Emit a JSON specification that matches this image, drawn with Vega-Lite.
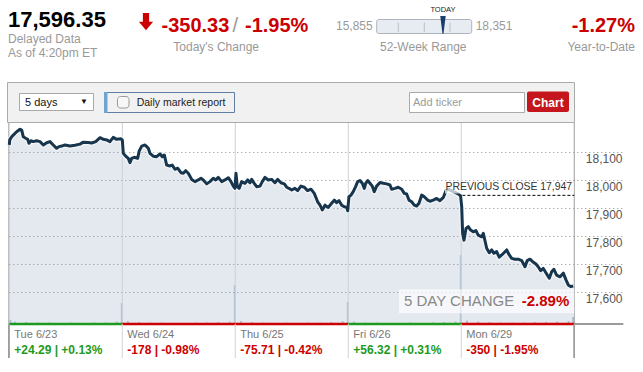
{
  "$schema": "https://vega.github.io/schema/vega-lite/v6.json",
  "padding": 0,
  "spacing": 0,
  "bounds": "flush",
  "background": "white",
  "config": {
    "view": {"stroke": null},
    "font": "Liberation Sans",
    "text": {"font": "Liberation Sans"},
    "axis": {"labelFont": "Liberation Sans"}
  },
  "datasets": {
    "price": [
      {"t":0.000,"price":18127},{"t":0.004,"price":18145},{"t":0.021,"price":18156},{"t":0.035,"price":18162},{"t":0.065,"price":18174},{"t":0.095,"price":18183},{"t":0.110,"price":18180},{"t":0.124,"price":18156},{"t":0.145,"price":18151},{"t":0.163,"price":18147},{"t":0.174,"price":18133},{"t":0.192,"price":18142},{"t":0.212,"price":18139},{"t":0.242,"price":18142},{"t":0.272,"price":18139},{"t":0.301,"price":18127},{"t":0.331,"price":18135},{"t":0.360,"price":18139},{"t":0.389,"price":18127},{"t":0.419,"price":18115},{"t":0.440,"price":18121},{"t":0.464,"price":18123},{"t":0.493,"price":18127},{"t":0.537,"price":18123},{"t":0.581,"price":18126},{"t":0.626,"price":18130},{"t":0.655,"price":18137},{"t":0.699,"price":18136},{"t":0.729,"price":18134},{"t":0.765,"price":18139},{"t":0.803,"price":18153},{"t":0.832,"price":18147},{"t":0.862,"price":18145},{"t":0.891,"price":18139},{"t":0.920,"price":18154},{"t":0.950,"price":18147},{"t":0.988,"price":18149},{"t":1.000,"price":18145},
      {"t":1.009,"price":18097},{"t":1.030,"price":18087},{"t":1.053,"price":18079},{"t":1.068,"price":18064},{"t":1.083,"price":18079},{"t":1.106,"price":18083},{"t":1.136,"price":18079},{"t":1.150,"price":18106},{"t":1.172,"price":18123},{"t":1.201,"price":18127},{"t":1.216,"price":18121},{"t":1.230,"price":18115},{"t":1.245,"price":18097},{"t":1.274,"price":18087},{"t":1.304,"price":18085},{"t":1.334,"price":18095},{"t":1.354,"price":18085},{"t":1.372,"price":18091},{"t":1.393,"price":18055},{"t":1.422,"price":18052},{"t":1.442,"price":18055},{"t":1.466,"price":18040},{"t":1.490,"price":18044},{"t":1.519,"price":18028},{"t":1.540,"price":18026},{"t":1.561,"price":18035},{"t":1.584,"price":18026},{"t":1.614,"price":18004},{"t":1.643,"price":17996},{"t":1.673,"price":18002},{"t":1.696,"price":18008},{"t":1.717,"price":18002},{"t":1.747,"price":17988},{"t":1.776,"price":17996},{"t":1.805,"price":18008},{"t":1.827,"price":18002},{"t":1.850,"price":18011},{"t":1.880,"price":17996},{"t":1.909,"price":18002},{"t":1.938,"price":18010},{"t":1.962,"price":17996},{"t":1.982,"price":17980},{"t":1.997,"price":17972},
      {"t":2.006,"price":18026},{"t":2.018,"price":17978},{"t":2.035,"price":17972},{"t":2.056,"price":17996},{"t":2.086,"price":17990},{"t":2.110,"price":18002},{"t":2.130,"price":17992},{"t":2.145,"price":18004},{"t":2.168,"price":17990},{"t":2.189,"price":17978},{"t":2.219,"price":17980},{"t":2.239,"price":17996},{"t":2.263,"price":18011},{"t":2.292,"price":18002},{"t":2.322,"price":18004},{"t":2.351,"price":17992},{"t":2.375,"price":18004},{"t":2.404,"price":17992},{"t":2.434,"price":17988},{"t":2.455,"price":17976},{"t":2.475,"price":17972},{"t":2.499,"price":17966},{"t":2.528,"price":17972},{"t":2.552,"price":17964},{"t":2.581,"price":17980},{"t":2.611,"price":17976},{"t":2.640,"price":17964},{"t":2.670,"price":17969},{"t":2.699,"price":17954},{"t":2.729,"price":17924},{"t":2.750,"price":17912},{"t":2.770,"price":17895},{"t":2.794,"price":17912},{"t":2.823,"price":17904},{"t":2.853,"price":17919},{"t":2.876,"price":17930},{"t":2.897,"price":17921},{"t":2.918,"price":17928},{"t":2.942,"price":17912},{"t":2.965,"price":17906},{"t":2.986,"price":17904},{"t":2.995,"price":17892},
      {"t":3.006,"price":17942},{"t":3.024,"price":17948},{"t":3.044,"price":17960},{"t":3.065,"price":17978},{"t":3.083,"price":17996},{"t":3.104,"price":18000},{"t":3.124,"price":17990},{"t":3.142,"price":17972},{"t":3.154,"price":17990},{"t":3.172,"price":18000},{"t":3.192,"price":17990},{"t":3.212,"price":17980},{"t":3.230,"price":17960},{"t":3.251,"price":17980},{"t":3.281,"price":17993},{"t":3.310,"price":17990},{"t":3.340,"price":17988},{"t":3.369,"price":17984},{"t":3.384,"price":17969},{"t":3.413,"price":17972},{"t":3.442,"price":17976},{"t":3.473,"price":17969},{"t":3.496,"price":17954},{"t":3.517,"price":17952},{"t":3.537,"price":17930},{"t":3.561,"price":17924},{"t":3.584,"price":17912},{"t":3.605,"price":17909},{"t":3.626,"price":17919},{"t":3.650,"price":17948},{"t":3.673,"price":17942},{"t":3.703,"price":17930},{"t":3.723,"price":17926},{"t":3.752,"price":17930},{"t":3.782,"price":17936},{"t":3.811,"price":17928},{"t":3.842,"price":17940},{"t":3.865,"price":17964},{"t":3.885,"price":17969},{"t":3.929,"price":17960},{"t":3.973,"price":17952},{"t":3.994,"price":17945},
      {"t":4.004,"price":17906},{"t":4.012,"price":17811},{"t":4.024,"price":17787},{"t":4.042,"price":17829},{"t":4.062,"price":17835},{"t":4.083,"price":17823},{"t":4.106,"price":17817},{"t":4.130,"price":17821},{"t":4.150,"price":17805},{"t":4.181,"price":17799},{"t":4.195,"price":17811},{"t":4.225,"price":17758},{"t":4.248,"price":17742},{"t":4.269,"price":17752},{"t":4.289,"price":17740},{"t":4.313,"price":17746},{"t":4.336,"price":17726},{"t":4.358,"price":17734},{"t":4.378,"price":17742},{"t":4.402,"price":17752},{"t":4.425,"price":17734},{"t":4.446,"price":17722},{"t":4.475,"price":17719},{"t":4.504,"price":17719},{"t":4.535,"price":17714},{"t":4.564,"price":17692},{"t":4.584,"price":17714},{"t":4.608,"price":17719},{"t":4.632,"price":17710},{"t":4.661,"price":17702},{"t":4.681,"price":17692},{"t":4.703,"price":17678},{"t":4.726,"price":17686},{"t":4.756,"price":17666},{"t":4.779,"price":17651},{"t":4.800,"price":17674},{"t":4.820,"price":17683},{"t":4.844,"price":17662},{"t":4.874,"price":17656},{"t":4.903,"price":17669},{"t":4.927,"price":17645},{"t":4.947,"price":17627},{"t":4.968,"price":17621},{"t":4.991,"price":17623}
    ],
    "volume": [
      {"t":0.01,"vol":8},{"t":0.05,"vol":5},{"t":0.15,"vol":4},{"t":0.25,"vol":3},{"t":0.35,"vol":3},{"t":0.45,"vol":2},{"t":0.55,"vol":3},{"t":0.65,"vol":2},{"t":0.75,"vol":3},{"t":0.85,"vol":3},{"t":0.95,"vol":5},{"t":0.996,"vol":42},
      {"t":1.05,"vol":6},{"t":1.15,"vol":4},{"t":1.25,"vol":3},{"t":1.35,"vol":3},{"t":1.45,"vol":2},{"t":1.55,"vol":2},{"t":1.65,"vol":3},{"t":1.75,"vol":3},{"t":1.85,"vol":4},{"t":1.95,"vol":5},{"t":1.996,"vol":78},
      {"t":2.05,"vol":6},{"t":2.15,"vol":4},{"t":2.25,"vol":3},{"t":2.35,"vol":2},{"t":2.45,"vol":3},{"t":2.55,"vol":2},{"t":2.65,"vol":3},{"t":2.75,"vol":3},{"t":2.85,"vol":4},{"t":2.95,"vol":6},{"t":2.996,"vol":44},
      {"t":3.05,"vol":5},{"t":3.15,"vol":3},{"t":3.25,"vol":3},{"t":3.35,"vol":2},{"t":3.45,"vol":2},{"t":3.55,"vol":3},{"t":3.65,"vol":2},{"t":3.75,"vol":3},{"t":3.85,"vol":4},{"t":3.95,"vol":5},{"t":3.996,"vol":138},
      {"t":4.05,"vol":7},{"t":4.15,"vol":5},{"t":4.25,"vol":4},{"t":4.35,"vol":3},{"t":4.45,"vol":3},{"t":4.55,"vol":3},{"t":4.65,"vol":4},{"t":4.75,"vol":4},{"t":4.85,"vol":5},{"t":4.95,"vol":6},{"t":4.99,"vol":14}
    ],
    "days": [
      {"day":"Tue 6/23","t0":0,"t1":1,"change":"+24.29 | +0.13%","dir":"up"},
      {"day":"Wed 6/24","t0":1,"t1":2,"change":"-178 | -0.98%","dir":"down"},
      {"day":"Thu 6/25","t0":2,"t1":3,"change":"-75.71 | -0.42%","dir":"down"},
      {"day":"Fri 6/26","t0":3,"t1":4,"change":"+56.32 | +0.31%","dir":"up"},
      {"day":"Mon 6/29","t0":4,"t1":5,"change":"-350 | -1.95%","dir":"down"}
    ]
  },
  "vconcat": [
    {
      "width": 643,
      "height": 123,
      "data": {"values": [{"quote":"17,596.35","status":"Delayed Data","asof":"As of 4:20pm ET","change":"-350.33","changePct":"-1.95%","ytd":"-1.27%","low":15855,"high":18351,"current":17596.35}]},
      "layer": [
        {
          "layer": [
            {"mark":{"type":"rect","fill":"#f1f1f1","stroke":"#ababab","strokeWidth":1},
             "encoding":{"x":{"datum":7.5,"type":"quantitative","scale":{"domain":[0,643],"nice":false,"zero":false},"axis":null},"x2":{"datum":574.5},"y":{"datum":82.5,"type":"quantitative","scale":{"domain":[0,123],"nice":false,"zero":false,"reverse":true},"axis":null},"y2":{"datum":122.5}}},
            {"mark":{"type":"rect","fill":"#ffffff","stroke":"#a9a9a9","strokeWidth":1},
             "encoding":{"x":{"datum":19.5,"type":"quantitative","scale":{"domain":[0,643],"nice":false,"zero":false},"axis":null},"x2":{"datum":93.5},"y":{"datum":93.5,"type":"quantitative","scale":{"domain":[0,123],"nice":false,"zero":false,"reverse":true},"axis":null},"y2":{"datum":110.5}}},
            {"mark":{"type":"text","align":"left","baseline":"alphabetic","fontSize":11,"color":"#111111"},
             "encoding":{"x":{"datum":25,"type":"quantitative","scale":{"domain":[0,643],"nice":false,"zero":false},"axis":null},"y":{"datum":106,"type":"quantitative","scale":{"domain":[0,123],"nice":false,"zero":false,"reverse":true},"axis":null},"text":{"value":"5 days"}}},
            {"mark":{"type":"text","align":"center","baseline":"alphabetic","fontSize":8,"color":"#111111"},
             "encoding":{"x":{"datum":84,"type":"quantitative","scale":{"domain":[0,643],"nice":false,"zero":false},"axis":null},"y":{"datum":104,"type":"quantitative","scale":{"domain":[0,123],"nice":false,"zero":false,"reverse":true},"axis":null},"text":{"value":"▼"}}},
            {"mark":{"type":"rect","fill":"#f1f1f1","stroke":"#5f7fa3","strokeWidth":1},
             "encoding":{"x":{"datum":104.5,"type":"quantitative","scale":{"domain":[0,643],"nice":false,"zero":false},"axis":null},"x2":{"datum":234.5},"y":{"datum":92.5,"type":"quantitative","scale":{"domain":[0,123],"nice":false,"zero":false,"reverse":true},"axis":null},"y2":{"datum":112.5}}},
            {"mark":{"type":"rect","fill":"#6ea6d3"},
             "encoding":{"x":{"datum":104,"type":"quantitative","scale":{"domain":[0,643],"nice":false,"zero":false},"axis":null},"x2":{"datum":107.5},"y":{"datum":92,"type":"quantitative","scale":{"domain":[0,123],"nice":false,"zero":false,"reverse":true},"axis":null},"y2":{"datum":113}}},
            {"mark":{"type":"rect","fill":"#f7f7f7","stroke":"#9a9a9a","strokeWidth":1,"cornerRadius":3},
             "encoding":{"x":{"datum":117.5,"type":"quantitative","scale":{"domain":[0,643],"nice":false,"zero":false},"axis":null},"x2":{"datum":129},"y":{"datum":96.5,"type":"quantitative","scale":{"domain":[0,123],"nice":false,"zero":false,"reverse":true},"axis":null},"y2":{"datum":108}}},
            {"mark":{"type":"text","align":"left","baseline":"alphabetic","fontSize":10.5,"color":"#222222"},
             "encoding":{"x":{"datum":136.7,"type":"quantitative","scale":{"domain":[0,643],"nice":false,"zero":false},"axis":null},"y":{"datum":106,"type":"quantitative","scale":{"domain":[0,123],"nice":false,"zero":false,"reverse":true},"axis":null},"text":{"value":"Daily market report"}}},
            {"mark":{"type":"rect","fill":"#ffffff","stroke":"#aaaaaa","strokeWidth":1},
             "encoding":{"x":{"datum":409.5,"type":"quantitative","scale":{"domain":[0,643],"nice":false,"zero":false},"axis":null},"x2":{"datum":524.5},"y":{"datum":92.5,"type":"quantitative","scale":{"domain":[0,123],"nice":false,"zero":false,"reverse":true},"axis":null},"y2":{"datum":112.5}}},
            {"mark":{"type":"text","align":"left","baseline":"alphabetic","fontSize":11,"color":"#9a9a9a"},
             "encoding":{"x":{"datum":413,"type":"quantitative","scale":{"domain":[0,643],"nice":false,"zero":false},"axis":null},"y":{"datum":106,"type":"quantitative","scale":{"domain":[0,123],"nice":false,"zero":false,"reverse":true},"axis":null},"text":{"value":"Add ticker"}}},
            {"mark":{"type":"rect","fill":"#c5161d","cornerRadius":2},
             "encoding":{"x":{"datum":527,"type":"quantitative","scale":{"domain":[0,643],"nice":false,"zero":false},"axis":null},"x2":{"datum":569},"y":{"datum":91.5,"type":"quantitative","scale":{"domain":[0,123],"nice":false,"zero":false,"reverse":true},"axis":null},"y2":{"datum":112}}},
            {"mark":{"type":"text","align":"center","baseline":"alphabetic","fontSize":12,"fontWeight":"bold","color":"#ffffff"},
             "encoding":{"x":{"datum":548,"type":"quantitative","scale":{"domain":[0,643],"nice":false,"zero":false},"axis":null},"y":{"datum":106.5,"type":"quantitative","scale":{"domain":[0,123],"nice":false,"zero":false,"reverse":true},"axis":null},"text":{"value":"Chart"}}},
            {"mark":{"type":"text","align":"left","baseline":"alphabetic","fontSize":22,"fontWeight":"bold","color":"#000000"},
             "encoding":{"x":{"datum":8,"type":"quantitative","scale":{"domain":[0,643],"nice":false,"zero":false},"axis":null},"y":{"datum":26.7,"type":"quantitative","scale":{"domain":[0,123],"nice":false,"zero":false,"reverse":true},"axis":null},"text":{"field":"quote"}}},
            {"mark":{"type":"text","align":"left","baseline":"alphabetic","fontSize":12,"color":"#999999"},
             "encoding":{"x":{"datum":8,"type":"quantitative","scale":{"domain":[0,643],"nice":false,"zero":false},"axis":null},"y":{"datum":42.5,"type":"quantitative","scale":{"domain":[0,123],"nice":false,"zero":false,"reverse":true},"axis":null},"text":{"field":"status"}}},
            {"mark":{"type":"text","align":"left","baseline":"alphabetic","fontSize":12,"color":"#999999"},
             "encoding":{"x":{"datum":8,"type":"quantitative","scale":{"domain":[0,643],"nice":false,"zero":false},"axis":null},"y":{"datum":57,"type":"quantitative","scale":{"domain":[0,123],"nice":false,"zero":false,"reverse":true},"axis":null},"text":{"field":"asof"}}},
            {"mark":{"type":"point","filled":true,"opacity":1,"color":"#cc0000","size":300,"shape":"M-0.36,-1L0.36,-1L0.36,0.02L0.82,0.02L0,0.98L-0.82,0.02L-0.36,0.02Z"},
             "encoding":{"x":{"datum":146,"type":"quantitative","scale":{"domain":[0,643],"nice":false,"zero":false},"axis":null},"y":{"datum":21.7,"type":"quantitative","scale":{"domain":[0,123],"nice":false,"zero":false,"reverse":true},"axis":null}}},
            {"mark":{"type":"text","align":"left","baseline":"alphabetic","fontSize":20,"fontWeight":"bold","color":"#cc0000"},
             "encoding":{"x":{"datum":161.5,"type":"quantitative","scale":{"domain":[0,643],"nice":false,"zero":false},"axis":null},"y":{"datum":31.5,"type":"quantitative","scale":{"domain":[0,123],"nice":false,"zero":false,"reverse":true},"axis":null},"text":{"field":"change"}}},
            {"mark":{"type":"text","align":"left","baseline":"alphabetic","fontSize":20,"color":"#999999"},
             "encoding":{"x":{"datum":232.5,"type":"quantitative","scale":{"domain":[0,643],"nice":false,"zero":false},"axis":null},"y":{"datum":31.5,"type":"quantitative","scale":{"domain":[0,123],"nice":false,"zero":false,"reverse":true},"axis":null},"text":{"value":"/"}}},
            {"mark":{"type":"text","align":"left","baseline":"alphabetic","fontSize":20,"fontWeight":"bold","color":"#cc0000"},
             "encoding":{"x":{"datum":245,"type":"quantitative","scale":{"domain":[0,643],"nice":false,"zero":false},"axis":null},"y":{"datum":31.5,"type":"quantitative","scale":{"domain":[0,123],"nice":false,"zero":false,"reverse":true},"axis":null},"text":{"field":"changePct"}}},
            {"mark":{"type":"text","align":"left","baseline":"alphabetic","fontSize":12,"color":"#999999"},
             "encoding":{"x":{"datum":173.3,"type":"quantitative","scale":{"domain":[0,643],"nice":false,"zero":false},"axis":null},"y":{"datum":50.7,"type":"quantitative","scale":{"domain":[0,123],"nice":false,"zero":false,"reverse":true},"axis":null},"text":{"value":"Today's Change"}}},
            {"mark":{"type":"text","align":"left","baseline":"alphabetic","fontSize":12,"color":"#999999"},
             "encoding":{"x":{"datum":380,"type":"quantitative","scale":{"domain":[0,643],"nice":false,"zero":false},"axis":null},"y":{"datum":50.7,"type":"quantitative","scale":{"domain":[0,123],"nice":false,"zero":false,"reverse":true},"axis":null},"text":{"value":"52-Week Range"}}},
            {"mark":{"type":"text","align":"right","baseline":"alphabetic","fontSize":20,"fontWeight":"bold","color":"#cc0000"},
             "encoding":{"x":{"datum":635,"type":"quantitative","scale":{"domain":[0,643],"nice":false,"zero":false},"axis":null},"y":{"datum":31.5,"type":"quantitative","scale":{"domain":[0,123],"nice":false,"zero":false,"reverse":true},"axis":null},"text":{"field":"ytd"}}},
            {"mark":{"type":"text","align":"right","baseline":"alphabetic","fontSize":12,"color":"#999999"},
             "encoding":{"x":{"datum":635,"type":"quantitative","scale":{"domain":[0,643],"nice":false,"zero":false},"axis":null},"y":{"datum":50.7,"type":"quantitative","scale":{"domain":[0,123],"nice":false,"zero":false,"reverse":true},"axis":null},"text":{"value":"Year-to-Date"}}}
          ]
        },
        {
          "layer": [
            {"mark":{"type":"rect","fill":"#e7ecf2","stroke":"#aeb4bb","strokeWidth":1,"cornerRadius":2},
             "encoding":{"x":{"field":"low","type":"quantitative","scale":{"domain":[5957.5,22851.9],"nice":false,"zero":false},"axis":null},"x2":{"field":"high"},"y":{"datum":19.5,"type":"quantitative","scale":{"domain":[0,123],"nice":false,"zero":false,"reverse":true},"axis":null},"y2":{"datum":33.5}}},
            {"data":{"values":[{"q":16422},{"q":17106},{"q":17781}]},
             "mark":{"type":"rule","color":"#b9bfc6","strokeWidth":1},
             "encoding":{"x":{"field":"q","type":"quantitative","scale":{"domain":[5957.5,22851.9],"nice":false,"zero":false},"axis":null},"y":{"datum":22.7,"type":"quantitative","scale":{"domain":[0,123],"nice":false,"zero":false,"reverse":true},"axis":null},"y2":{"datum":31.7}}},
            {"mark":{"type":"point","filled":true,"opacity":1,"color":"#1b3d6d","size":324,"shape":"M-0.3,-1L0.3,-1L0.05,1L-0.05,1Z"},
             "encoding":{"x":{"field":"current","type":"quantitative","scale":{"domain":[5957.5,22851.9],"nice":false,"zero":false},"axis":null},"y":{"datum":25,"type":"quantitative","scale":{"domain":[0,123],"nice":false,"zero":false,"reverse":true},"axis":null}}},
            {"mark":{"type":"text","align":"center","baseline":"alphabetic","fontSize":7.5,"color":"#222222"},
             "encoding":{"x":{"field":"current","type":"quantitative","scale":{"domain":[5957.5,22851.9],"nice":false,"zero":false},"axis":null},"y":{"datum":11.7,"type":"quantitative","scale":{"domain":[0,123],"nice":false,"zero":false,"reverse":true},"axis":null},"text":{"value":"TODAY"}}},
            {"mark":{"type":"text","align":"right","baseline":"alphabetic","fontSize":12,"color":"#9a9a9a","dx":-4},
             "encoding":{"x":{"field":"low","type":"quantitative","scale":{"domain":[5957.5,22851.9],"nice":false,"zero":false},"axis":null},"y":{"datum":30,"type":"quantitative","scale":{"domain":[0,123],"nice":false,"zero":false,"reverse":true},"axis":null},"text":{"field":"low","type":"quantitative","format":","}}},
            {"mark":{"type":"text","align":"left","baseline":"alphabetic","fontSize":12,"color":"#9a9a9a","dx":4},
             "encoding":{"x":{"field":"high","type":"quantitative","scale":{"domain":[5957.5,22851.9],"nice":false,"zero":false},"axis":null},"y":{"datum":30,"type":"quantitative","scale":{"domain":[0,123],"nice":false,"zero":false,"reverse":true},"axis":null},"text":{"field":"high","type":"quantitative","format":","}}}
          ]
        }
      ],
      "resolve": {"scale": {"x": "independent"}}
    },
    {
      "width": 643,
      "height": 201,
      "layer": [
        {"data":{"name":"price"},
         "mark":{"type":"area","color":"#e4e9f0"},
         "encoding":{"x":{"field":"t","type":"quantitative","scale":{"domain":[-0.0823,5.6084],"nice":false,"zero":false},"axis":null},"y":{"field":"price","type":"quantitative","scale":{"domain":[17487.5,18205.4],"nice":false,"zero":false},"axis":null},"y2":{"datum":17487.5}}},
        {"data":{"name":"volume"},
         "mark":{"type":"rule","color":"#b2c1d1","strokeWidth":2},
         "encoding":{"x":{"field":"t","type":"quantitative","scale":{"domain":[-0.0823,5.6084],"nice":false,"zero":false},"axis":null},"y":{"field":"vol","type":"quantitative","scale":{"domain":[0,402],"nice":false,"zero":false},"axis":null},"y2":{"datum":0}}},
        {
          "layer": [
            {"data":{"values":[{"level":17600},{"level":17700},{"level":17800},{"level":17900},{"level":18000},{"level":18100}]},
             "mark":{"type":"rule","color":"#8f8f8f","strokeDash":[1,3],"strokeWidth":1},
             "encoding":{"x":{"datum":0,"type":"quantitative","scale":{"domain":[-0.0823,5.6084],"nice":false,"zero":false},"axis":null},"x2":{"datum":5.434},
               "y":{"field":"level","type":"quantitative","scale":{"domain":[17487.5,18205.4],"nice":false,"zero":false},
                 "axis":{"orient":"right","offset":-20,"values":[17600,17700,17800,17900,18000,18100],"format":",d","grid":false,"domain":false,"ticks":false,"tickSize":0,"labelAlign":"right","labelPadding":-1,"labelBaseline":"alphabetic","labelOffset":10,"labelColor":"#555555","labelFontSize":12,"labelFont":"Liberation Sans","title":null}}}},
            {"data":{"name":"days"},
             "transform":[{"filter":"datum.t0 > 0"}],
             "mark":{"type":"rule","color":"#cdd2d9","strokeWidth":1},
             "encoding":{"x":{"field":"t0","type":"quantitative","scale":{"domain":[-0.0823,5.6084],"nice":false,"zero":false},"axis":null}}},
            {"data":{"values":[{}]},
             "mark":{"type":"rule","color":"#9d9d9d","strokeWidth":1},
             "encoding":{"x":{"datum":-0.004,"type":"quantitative","scale":{"domain":[-0.0823,5.6084],"nice":false,"zero":false},"axis":null}}},
            {"data":{"values":[{}]},
             "mark":{"type":"rule","color":"#9d9d9d","strokeWidth":1},
             "encoding":{"x":{"datum":5,"type":"quantitative","scale":{"domain":[-0.0823,5.6084],"nice":false,"zero":false},"axis":null}}},
            {"data":{"name":"price"},
             "mark":{"type":"line","color":"#ffffff","strokeWidth":5.5,"opacity":0.55,"strokeJoin":"round"},
             "encoding":{"x":{"field":"t","type":"quantitative","scale":{"domain":[-0.0823,5.6084],"nice":false,"zero":false},"axis":null},"y":{"field":"price","type":"quantitative"}}},
            {"data":{"name":"price"},
             "mark":{"type":"line","color":"#17364e","strokeWidth":3,"strokeJoin":"round"},
             "encoding":{"x":{"field":"t","type":"quantitative","scale":{"domain":[-0.0823,5.6084],"nice":false,"zero":false},"axis":null},"y":{"field":"price","type":"quantitative"}}},
            {"data":{"values":[{"prevClose":17947,"label":"PREVIOUS CLOSE 17,947"}]},
             "layer":[
               {"mark":{"type":"rect","fill":"#ffffff","opacity":0.7},
                "encoding":{"x":{"datum":3.856,"type":"quantitative","scale":{"domain":[-0.0823,5.6084],"nice":false,"zero":false},"axis":null},"x2":{"datum":4.995},"y":{"datum":17991,"type":"quantitative"},"y2":{"datum":17954}}},
               {"mark":{"type":"rule","color":"#000000","strokeDash":[3,2],"strokeWidth":1},
                "encoding":{"x":{"datum":4.01,"type":"quantitative","scale":{"domain":[-0.0823,5.6084],"nice":false,"zero":false},"axis":null},"x2":{"datum":5},"y":{"field":"prevClose","type":"quantitative"}}},
               {"mark":{"type":"text","align":"right","baseline":"alphabetic","fontSize":10.4,"color":"#333333","dy":-5},
                "encoding":{"x":{"datum":4.98,"type":"quantitative","scale":{"domain":[-0.0823,5.6084],"nice":false,"zero":false},"axis":null},"y":{"field":"prevClose","type":"quantitative"},"text":{"field":"label"}}}
             ]},
            {"data":{"values":[{"label":"5 DAY CHANGE","change":"-2.89%"}]},
             "layer":[
               {"mark":{"type":"rect","fill":"#ffffff","opacity":0.65},
                "encoding":{"x":{"datum":3.449,"type":"quantitative","scale":{"domain":[-0.0823,5.6084],"nice":false,"zero":false},"axis":null},"x2":{"datum":5},"y":{"datum":17611.4,"type":"quantitative"},"y2":{"datum":17525.7}}},
               {"mark":{"type":"text","align":"left","baseline":"alphabetic","fontSize":15,"color":"#888888"},
                "encoding":{"x":{"datum":3.493,"type":"quantitative","scale":{"domain":[-0.0823,5.6084],"nice":false,"zero":false},"axis":null},"y":{"datum":17551.8,"type":"quantitative"},"text":{"field":"label"}}},
               {"mark":{"type":"text","align":"right","baseline":"alphabetic","fontSize":15,"fontWeight":"bold","color":"#cc0000"},
                "encoding":{"x":{"datum":4.956,"type":"quantitative","scale":{"domain":[-0.0823,5.6084],"nice":false,"zero":false},"axis":null},"y":{"datum":17551.8,"type":"quantitative"},"text":{"field":"change"}}}
             ]},
            {"data":{"name":"days"},
             "mark":{"type":"rule","strokeWidth":2.5},
             "encoding":{"x":{"field":"t0","type":"quantitative","scale":{"domain":[-0.0823,5.6084],"nice":false,"zero":false},"axis":null},"x2":{"field":"t1"},"y":{"datum":17487.5,"type":"quantitative"},
               "color":{"field":"dir","type":"nominal","scale":{"domain":["up","down"],"range":["#1d9a1d","#cc0000"]},"legend":null}}},
            {"data":{"values":[{}]},
             "mark":{"type":"rule","color":"#9a9a9a","strokeWidth":2.2},
             "encoding":{"x":{"datum":5,"type":"quantitative","scale":{"domain":[-0.0823,5.6084],"nice":false,"zero":false},"axis":null},"x2":{"datum":5.434},"y":{"datum":17487.5,"type":"quantitative"}}}
          ]
        }
      ],
      "resolve": {"scale": {"y": "independent"}}
    },
    {
      "width": 643,
      "height": 34,
      "data": {"name": "days"},
      "layer": [
        {"transform":[{"filter":"datum.t0 > 0"}],
         "mark":{"type":"rule","color":"#d3d3d3","strokeWidth":1},
         "encoding":{"x":{"field":"t0","type":"quantitative","scale":{"domain":[-0.0823,5.6084],"nice":false,"zero":false},"axis":null}}},
        {"mark":{"type":"rule","color":"#9d9d9d","strokeWidth":1},
         "encoding":{"x":{"datum":-0.004,"type":"quantitative","scale":{"domain":[-0.0823,5.6084],"nice":false,"zero":false},"axis":null}}},
        {"mark":{"type":"rule","color":"#9d9d9d","strokeWidth":1},
         "encoding":{"x":{"datum":5,"type":"quantitative","scale":{"domain":[-0.0823,5.6084],"nice":false,"zero":false},"axis":null}}},
        {"mark":{"type":"text","align":"left","baseline":"alphabetic","fontSize":11,"color":"#777777","dx":5,"dy":-3.2},
         "encoding":{"x":{"field":"t0","type":"quantitative","scale":{"domain":[-0.0823,5.6084],"nice":false,"zero":false},"axis":null},"text":{"field":"day"}}},
        {"mark":{"type":"text","align":"left","baseline":"alphabetic","fontSize":12,"fontWeight":"bold","dx":5,"dy":12.8},
         "encoding":{"x":{"field":"t0","type":"quantitative","scale":{"domain":[-0.0823,5.6084],"nice":false,"zero":false},"axis":null},"text":{"field":"change"},
           "color":{"field":"dir","type":"nominal","scale":{"domain":["up","down"],"range":["#1d9a1d","#cc0000"]},"legend":null}}}
      ]
    }
  ]
}
